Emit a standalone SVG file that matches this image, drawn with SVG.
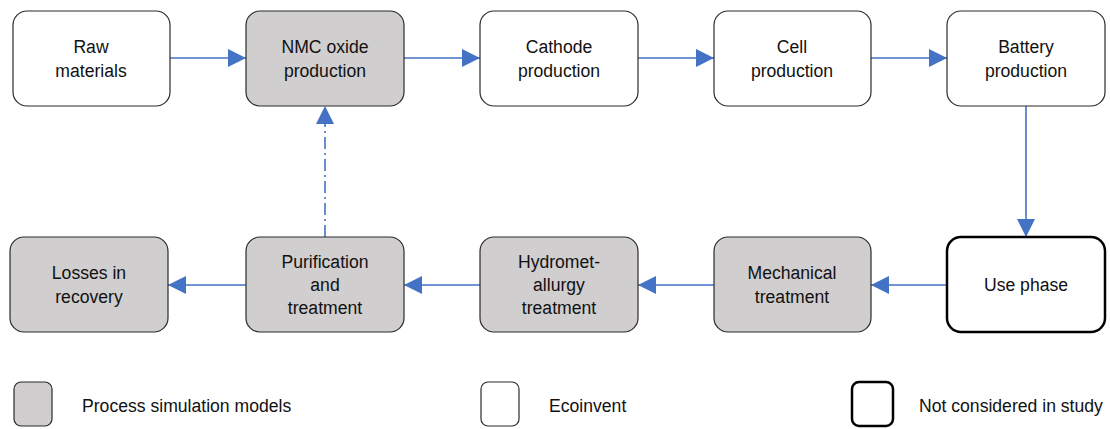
<svg xmlns="http://www.w3.org/2000/svg" width="1110" height="429" viewBox="0 0 1110 429">
<style>
.box{fill:#fff;stroke:#2b2b2b;stroke-width:1.2}
.sim{fill:#d0cece;stroke:#2b2b2b;stroke-width:1.2}
.nc{fill:#fff;stroke:#000;stroke-width:2.5}
text{font-family:"Liberation Sans",Arial,sans-serif;font-size:17.6px;fill:#111;text-anchor:middle}
.lg{text-anchor:start}
.c{stroke:#4472c4;stroke-width:1.6;fill:none}
</style>
<defs>
<marker id="ah" markerWidth="18" markerHeight="18" viewBox="0 0 18 18" refX="18" refY="9" orient="auto" markerUnits="userSpaceOnUse">
<path d="M0,0 L18,9 L0,18 Z" fill="#4472c4"/>
</marker>
</defs>
<g id="connectors">
<line class="c" x1="170" y1="58" x2="246" y2="58" marker-end="url(#ah)"/>
<line class="c" x1="404" y1="58" x2="480" y2="58" marker-end="url(#ah)"/>
<line class="c" x1="638" y1="58" x2="714" y2="58" marker-end="url(#ah)"/>
<line class="c" x1="871" y1="58" x2="947" y2="58" marker-end="url(#ah)"/>
<line class="c" x1="1026" y1="106" x2="1026" y2="237" marker-end="url(#ah)"/>
<line class="c" x1="947" y1="285" x2="871" y2="285" marker-end="url(#ah)"/>
<line class="c" x1="714" y1="285" x2="638" y2="285" marker-end="url(#ah)"/>
<line class="c" x1="480" y1="285" x2="404" y2="285" marker-end="url(#ah)"/>
<line class="c" x1="246" y1="285" x2="168" y2="285" marker-end="url(#ah)"/>
<line class="c" x1="325" y1="237" x2="325" y2="106" stroke-dasharray="12,4,2,4" marker-end="url(#ah)"/>
</g>
<g id="raw"><rect class="box" x="13" y="11" width="157" height="95" rx="14"/><text x="91" y="53">Raw</text><text x="91" y="77">materials</text></g>
<g id="nmc"><rect class="sim" x="246" y="11" width="158" height="95" rx="14"/><text x="325" y="53">NMC oxide</text><text x="325" y="77">production</text></g>
<g id="cathode"><rect class="box" x="480" y="11" width="158" height="95" rx="14"/><text x="559" y="53">Cathode</text><text x="559" y="77">production</text></g>
<g id="cell"><rect class="box" x="714" y="11" width="157" height="95" rx="14"/><text x="792" y="53">Cell</text><text x="792" y="77">production</text></g>
<g id="battery"><rect class="box" x="947" y="11" width="158" height="95" rx="14"/><text x="1026" y="53">Battery</text><text x="1026" y="77">production</text></g>
<g id="losses"><rect class="sim" x="10" y="237" width="158" height="95" rx="14"/><text x="89" y="279">Losses in</text><text x="89" y="303">recovery</text></g>
<g id="purification"><rect class="sim" x="246" y="237" width="158" height="95" rx="14"/><text x="325" y="268">Purification</text><text x="325" y="291">and</text><text x="325" y="314">treatment</text></g>
<g id="hydromet"><rect class="sim" x="480" y="237" width="158" height="95" rx="14"/><text x="559" y="268">Hydromet-</text><text x="559" y="291">allurgy</text><text x="559" y="314">treatment</text></g>
<g id="mechanical"><rect class="sim" x="714" y="237" width="157" height="95" rx="14"/><text x="792" y="279">Mechanical</text><text x="792" y="303">treatment</text></g>
<g id="use"><rect class="nc" x="947" y="237" width="158" height="95" rx="14"/><text x="1026" y="291">Use phase</text></g>
<g id="legend">
<rect class="sim" x="14" y="382" width="38" height="44" rx="7"/><text class="lg" x="82" y="412">Process simulation models</text>
<rect class="box" x="481" y="382" width="38" height="44" rx="7"/><text class="lg" x="549" y="412">Ecoinvent</text>
<rect class="nc" x="852" y="382" width="41" height="44" rx="7"/><text class="lg" x="919" y="412">Not considered in study</text>
</g>
</svg>
